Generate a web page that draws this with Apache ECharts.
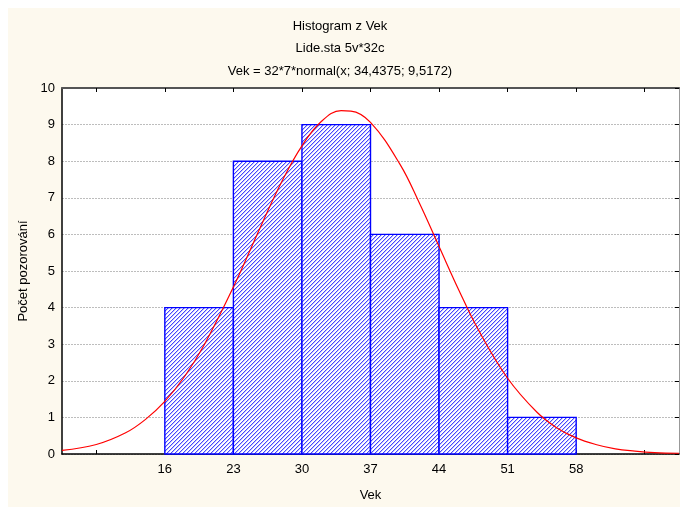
<!DOCTYPE html>
<html>
<head>
<meta charset="utf-8">
<script src="https://cdn.jsdelivr.net/npm/echarts@6/dist/echarts.min.js"></script>
<style>
html, body { margin: 0; padding: 0; background: #ffffff; }
#chart { width: 680px; height: 507px; }
</style>
</head>
<body>
<div id="chart"></div>
<script>
// histogram bins (Vek) and counts
var binStart = [16, 23, 30, 37, 44, 51];
var binEnd   = [23, 30, 37, 44, 51, 58];
var counts   = [4, 8, 9, 6, 4, 1];

// fitted normal curve
var curveX = [5.5, 9, 12, 14, 16, 18, 20, 23, 26, 28, 30, 32, 34, 35, 37, 40, 42, 44, 46, 48, 51, 54, 56, 58, 60, 62, 64, 66, 68.5];
var curveY = [0.10, 0.26, 0.58, 0.94, 1.44, 2.11, 2.97, 4.56, 6.34, 7.47, 8.42, 9.09, 9.38, 9.37, 9.06, 7.92, 6.85, 5.67, 4.49, 3.40, 2.07, 1.14, 0.72, 0.44, 0.26, 0.14, 0.08, 0.04, 0.02];

var xTicks  = [9, 16, 23, 30, 37, 44, 51, 58, 65];
var xLabels = [16, 23, 30, 37, 44, 51, 58];

var font = 'Liberation Sans, Arial, sans-serif';

// "/" hatch pattern for the bars
var hatch = document.createElement('canvas');
hatch.width = 4; hatch.height = 4;
var hc = hatch.getContext('2d');
hc.fillStyle = '#ffffff';
hc.fillRect(0, 0, 4, 4);
for (var i = 0; i < 4; i++) {
	hc.fillStyle = '#4646ff';
	hc.fillRect(3 - i, i, 1, 1);
	hc.fillStyle = '#c4c4ff';
	hc.fillRect((4 - i) % 4, i, 1, 1);
}

var bins = [];
for (var b = 0; b < counts.length; b++) {
	bins.push([binStart[b], binEnd[b], counts[b]]);
}
var curve = [];
for (var c = 0; c < curveX.length; c++) {
	curve.push([curveX[c], curveY[c]]);
}

var myChart = echarts.init(document.getElementById('chart'));
var option = {
	animation: false,
	backgroundColor: '#ffffff',
	graphic: [{
		type: 'rect', z: -10,
		shape: { x: 8, y: 8, width: 672, height: 499 },
		style: { fill: '#fdf9ee' }
	}],
	title: [
		{ text: 'Histogram z Vek', left: 'center', top: 15, textStyle: { fontFamily: font, fontSize: 13, fontWeight: 'normal', color: '#000' } },
		{ text: 'Lide.sta 5v*32c', left: 'center', top: 37, textStyle: { fontFamily: font, fontSize: 13, fontWeight: 'normal', color: '#000' } },
		{ text: 'Vek = 32*7*normal(x; 34,4375; 9,5172)', left: 'center', top: 60, textStyle: { fontFamily: font, fontSize: 13, fontWeight: 'normal', color: '#000' } }
	],
	grid: { left: 62, right: 1, top: 88, bottom: 53, backgroundColor: '#ffffff', show: true, borderWidth: 0 },
	xAxis: [{
		type: 'value', min: 5.5, max: 68.5,
		name: 'Vek', nameLocation: 'middle', nameGap: 35,
		nameTextStyle: { fontFamily: font, fontSize: 13, color: '#000' },
		axisLine: { show: true, onZero: false, lineStyle: { color: '#000', width: 1.5 } },
		axisTick: { show: true, inside: true, length: 4, customValues: xTicks, lineStyle: { color: '#000' } },
		axisLabel: { customValues: xLabels, margin: 9, fontFamily: font, fontSize: 13, color: '#000' },
		splitLine: { show: false }
	}, {
		type: 'value', min: 5.5, max: 68.5, position: 'top',
		axisLine: { show: true, onZero: false, lineStyle: { color: '#555', width: 2 } },
		axisTick: { show: true, inside: true, length: 4, customValues: xTicks, lineStyle: { color: '#000' } },
		axisLabel: { show: false },
		splitLine: { show: false }
	}],
	yAxis: [{
		type: 'value', min: 0, max: 10, interval: 1,
		name: 'Počet pozorování', nameLocation: 'middle', nameGap: 30, nameRotate: 90,
		nameTextStyle: { fontFamily: font, fontSize: 13, color: '#000' },
		axisLine: { show: true, lineStyle: { color: '#000', width: 1.5 } },
		axisTick: { show: false },
		axisLabel: { margin: 7, fontFamily: font, fontSize: 13, color: '#000' },
		splitLine: { show: true, lineStyle: { color: '#bdbdbd', type: [2, 1], width: 1 } }
	}, {
		type: 'value', min: 0, max: 10, interval: 1, position: 'right',
		axisLine: { show: true, lineStyle: { color: '#999', width: 1 } },
		axisTick: { show: true, inside: true, length: 4, lineStyle: { color: '#000' } },
		axisLabel: { show: false },
		splitLine: { show: false }
	}],
	series: [{
		name: 'Histogram',
		type: 'custom',
		xAxisIndex: 0, yAxisIndex: 0,
		data: bins,
		encode: { x: [0, 1], y: 2 },
		renderItem: function(params, api) {
			var p0 = api.coord([api.value(0), api.value(2)]);
			var p1 = api.coord([api.value(1), 0]);
			return {
				type: 'rect',
				shape: { x: p0[0], y: p0[1], width: p1[0] - p0[0], height: p1[1] - p0[1] },
				style: { fill: { image: hatch, repeat: 'repeat' }, stroke: '#0000ff', lineWidth: 1.4 }
			};
		},
		z: 2
	}, {
		name: 'normal',
		type: 'line',
		xAxisIndex: 0, yAxisIndex: 0,
		data: curve,
		smooth: 0.4,
		showSymbol: false,
		clip: true,
		lineStyle: { color: '#ff0000', width: 1.2 },
		z: 3
	}]
};
myChart.setOption(option);
</script>
</body>
</html>
